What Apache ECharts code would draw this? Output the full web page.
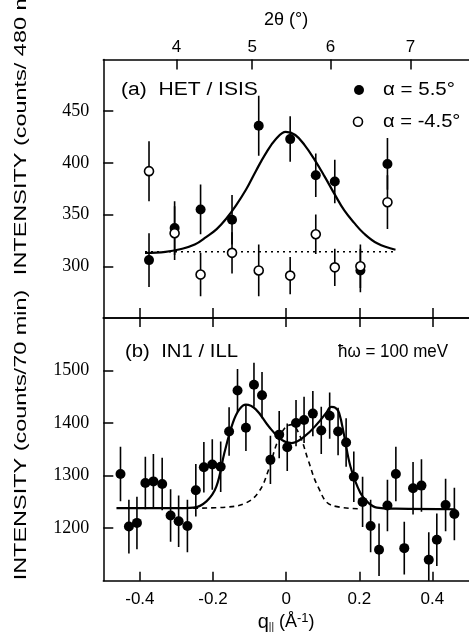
<!DOCTYPE html>
<html>
<head>
<meta charset="utf-8">
<script src="https://cdn.jsdelivr.net/npm/echarts@6/dist/echarts.min.js"></script>
<style>
html,body{margin:0;padding:0;background:#fff;}
#c{width:469px;height:639px;}
</style>
</head>
<body>
<div id="c"></div>
<script>
// ---------- Panel (a): HET / ISIS ----------
const qTop = [-0.375, -0.305, -0.234, -0.148, -0.075, 0.011, 0.081, 0.133, 0.203, 0.277];
const intensityPos = [306, 337, 355, 345, 436, 423, 388, 382, 296, 399];   // alpha = 5.5
const errPos = [26, 26, 24, 24, 29, 22, 21, 21, 21, 25];
const intensityNeg = [392, 332, 292, 313, 296, 291, 331, 299, 300, 362];   // alpha = -4.5
const errNeg = [29, 26, 21, 20, 25, 18, 19, 18, 21, 26];
const fitTopQ = [-0.386, -0.330, -0.290, -0.250, -0.218, -0.190, -0.164, -0.137, -0.110, -0.083, -0.056, -0.028, -0.001, 0.025, 0.051, 0.078, 0.105, 0.132, 0.159, 0.186, 0.212, 0.250, 0.299];
const fitTopVal = [313, 314, 316.5, 321, 328.5, 336, 346, 359, 374, 392, 409, 423, 430, 427, 417, 403, 387, 370, 354, 342, 332, 322, 316];
const baseTopQ = [-0.386, 0.299];
const baseTopVal = [314, 314];

// ---------- Panel (b): IN1 / ILL ----------
const qBottom = [-0.453, -0.430, -0.408, -0.385, -0.363, -0.339, -0.316, -0.294, -0.270, -0.247,
  -0.225, -0.202, -0.179, -0.156, -0.133, -0.110, -0.088, -0.066, -0.043, -0.019,
  0.003, 0.027, 0.049, 0.073, 0.096, 0.119, 0.142, 0.164, 0.185, 0.209,
  0.231, 0.254, 0.277, 0.300, 0.323, 0.347, 0.370, 0.390, 0.412, 0.436, 0.460];
const intensityBottom = [1303, 1203, 1210, 1286, 1289, 1284, 1224, 1213, 1204, 1272,
  1316, 1321, 1317, 1384, 1462, 1391, 1473, 1453, 1330, 1378,
  1354, 1400, 1406, 1418, 1386, 1414, 1384, 1363, 1298, 1250,
  1204, 1159, 1243, 1303, 1162, 1276, 1281, 1140, 1178, 1244, 1227];
const errBottom = [52, 51, 50, 50, 52, 50, 50, 49, 50, 50,
  48, 48, 48, 46, 41, 44, 42, 44, 46, 45,
  45, 44, 44, 43, 45, 44, 45, 46, 48, 48,
  50, 50, 49, 52, 50, 50, 50, 52, 50, 50, 50];
const fitBotQ = [-0.464, -0.300, -0.254, -0.218, -0.191, -0.169, -0.146, -0.128, -0.110, -0.083, -0.048, -0.012, 0.015, 0.051, 0.087, 0.110, 0.123, 0.135, 0.145, 0.159, 0.176, 0.203, 0.225, 0.248, 0.300, 0.463];
const fitBotVal = [1238, 1238, 1239, 1251, 1279, 1343, 1400, 1426, 1435, 1426, 1394, 1368, 1362, 1375, 1400, 1420, 1431, 1429, 1419, 1375, 1317, 1267, 1248, 1239, 1237, 1236];
const dashBotQ = [-0.254, -0.164, -0.110, -0.074, -0.048, -0.025, -0.003, 0.015, 0.038, 0.060, 0.087, 0.123, 0.203];
const dashBotVal = [1238, 1240, 1248, 1270, 1311, 1362, 1391, 1397, 1375, 1330, 1279, 1244, 1237];

// ---------- Axes ----------
const qTicks = [-0.4, -0.2, 0, 0.2, 0.4];
const twoThetaLabels = ['4', '5', '6', '7'];
const twoThetaQ = [-0.300, -0.093, 0.121, 0.340];
const yTopTicks = [300, 350, 400, 450];
const yBotTicks = [1200, 1300, 1400, 1500];

const sans = 'Liberation Sans';
const serif = 'Times New Roman';
const axisLine = {show: true, onZero: false, lineStyle: {color: '#000', width: 1.5}};

const pairs = (xs, ys) => xs.map((x, i) => [x, ys[i]]);
const bars = (xs, ys, es) => xs.map((x, i) => [x, ys[i] - es[i], ys[i] + es[i]]);

function errRender(params, api) {
  const p1 = api.coord([api.value(0), api.value(1)]);
  const p2 = api.coord([api.value(0), api.value(2)]);
  return {type: 'line', shape: {x1: p1[0], y1: p1[1], x2: p2[0], y2: p2[1]},
          style: {stroke: '#000', lineWidth: 1.6}};
}

const chart = echarts.init(document.getElementById('c'), null, {renderer: 'canvas'});

const gridL = 103.3, gridW = 372;
const yLabel = ticks => ({customValues: ticks, margin: 14, color: '#000', formatter: v => '{n|' + v + '}',
  rich: {n: {fontFamily: serif, fontSize: 18, color: '#000'}}});
const option = {
  animation: false,
  backgroundColor: '#fff',
  grid: [
    {left: gridL, top: 59.5, width: gridW, height: 258.5},
    {left: gridL, top: 318, width: gridW, height: 262.7}
  ],
  xAxis: [
    {gridIndex: 0, type: 'value', min: -0.5, max: 0.5, position: 'bottom',
     axisLine: axisLine, splitLine: {show: false},
     axisTick: {inside: true, length: 10, customValues: qTicks, lineStyle: {color: '#000', width: 1.5}},
     axisLabel: {show: false}},
    {gridIndex: 0, type: 'value', min: -0.5, max: 0.5, position: 'top',
     axisLine: axisLine, splitLine: {show: false},
     axisTick: {inside: true, length: 10, customValues: twoThetaQ, lineStyle: {color: '#000', width: 1.5}},
     axisLabel: {customValues: twoThetaQ, margin: 4, fontFamily: sans, fontSize: 17, color: '#000',
       formatter: v => { let best = 0; twoThetaQ.forEach((q, i) => { if (Math.abs(q - v) < Math.abs(twoThetaQ[best] - v)) best = i; }); return twoThetaLabels[best]; }},
     name: '2θ (°)', nameLocation: 'middle', nameGap: 30,
     nameTextStyle: {fontFamily: sans, fontSize: 18, color: '#000'}},
    {gridIndex: 1, type: 'value', min: -0.5, max: 0.5, position: 'bottom',
     axisLine: axisLine, splitLine: {show: false},
     axisTick: {inside: true, length: 9, customValues: qTicks, lineStyle: {color: '#000', width: 1.5}},
     axisLabel: {customValues: qTicks, margin: 10, fontFamily: sans, fontSize: 17, color: '#000',
       formatter: v => (Math.abs(v) < 1e-9 ? '0' : v.toFixed(1))},
     name: '{q|q}{s|||} {t|(Å}{p|-1}{t|)}', nameLocation: 'middle', nameGap: 31,
     nameTextStyle: {fontFamily: sans, fontSize: 18, color: '#000',
       rich: {q: {fontFamily: sans, fontSize: 20, color: '#000'},
              t: {fontFamily: sans, fontSize: 18, color: '#000'},
              s: {fontFamily: sans, fontSize: 10, color: '#000', verticalAlign: 'bottom', padding: [9, 0, 0, 0]},
              p: {fontFamily: sans, fontSize: 13, color: '#000', verticalAlign: 'top', padding: [0, 0, 8, 0]}}}},
    {gridIndex: 1, type: 'value', min: -0.5, max: 0.5, position: 'top',
     axisLine: axisLine, splitLine: {show: false},
     axisTick: {inside: true, length: 9, customValues: qTicks, lineStyle: {color: '#000', width: 1.5}},
     axisLabel: {show: false}}
  ],
  yAxis: [
    {gridIndex: 0, type: 'value', min: 250, max: 500,
     axisLine: axisLine, splitLine: {show: false},
     axisTick: {inside: true, length: 10, customValues: yTopTicks, lineStyle: {color: '#000', width: 1.5}},
     axisLabel: yLabel(yTopTicks)},
    {gridIndex: 1, type: 'value', min: 1100, max: 1600,
     axisLine: axisLine, splitLine: {show: false},
     axisTick: {inside: true, length: 10, customValues: yBotTicks, lineStyle: {color: '#000', width: 1.5}},
     axisLabel: yLabel(yBotTicks)}
  ],
  series: [
    {type: 'custom', xAxisIndex: 0, yAxisIndex: 0, renderItem: errRender, data: bars(qTop, intensityPos, errPos), clip: true, z: 2},
    {type: 'custom', xAxisIndex: 0, yAxisIndex: 0, renderItem: errRender, data: bars(qTop, intensityNeg, errNeg), clip: true, z: 2},
    {type: 'line', xAxisIndex: 0, yAxisIndex: 0, data: pairs(baseTopQ, baseTopVal), showSymbol: false, symbol: 'none',
     lineStyle: {color: '#000', width: 1.6, type: [2, 4]}, z: 3},
    {type: 'line', xAxisIndex: 0, yAxisIndex: 0, data: pairs(fitTopQ, fitTopVal), showSymbol: false, symbol: 'none', smooth: 0.4,
     lineStyle: {color: '#000', width: 2.2}, z: 3},
    {name: 'α = 5.5°', type: 'scatter', xAxisIndex: 0, yAxisIndex: 0, data: pairs(qTop, intensityPos), symbol: 'circle', symbolSize: 10,
     itemStyle: {color: '#000', opacity: 1}, z: 4},
    {name: 'α = -4.5°', type: 'scatter', xAxisIndex: 0, yAxisIndex: 0, data: pairs(qTop, intensityNeg), symbol: 'circle', symbolSize: 9,
     itemStyle: {color: '#fff', borderColor: '#000', borderWidth: 1.6, opacity: 1}, z: 5},

    {type: 'custom', xAxisIndex: 2, yAxisIndex: 1, renderItem: errRender, data: bars(qBottom, intensityBottom, errBottom), clip: true, z: 2},
    {type: 'line', xAxisIndex: 2, yAxisIndex: 1, data: pairs(dashBotQ, dashBotVal), showSymbol: false, symbol: 'none', smooth: 0.4,
     lineStyle: {color: '#000', width: 1.6, type: [5, 4]}, z: 3},
    {type: 'line', xAxisIndex: 2, yAxisIndex: 1, data: pairs(fitBotQ, fitBotVal), showSymbol: false, symbol: 'none', smooth: 0.4,
     lineStyle: {color: '#000', width: 2.2}, z: 3},
    {type: 'scatter', xAxisIndex: 2, yAxisIndex: 1, data: pairs(qBottom, intensityBottom), symbol: 'circle', symbolSize: 10,
     itemStyle: {color: '#000', opacity: 1}, z: 4}
  ],
  graphic: [
    {type: 'text', x: 121, y: 90, scaleX: 1.17,
     style: {text: '(a)  HET / ISIS', fontFamily: sans, fontSize: 18, fill: '#000', align: 'left', verticalAlign: 'middle'}},
    {type: 'circle', shape: {cx: 359, cy: 90, r: 5}, style: {fill: '#000'}},
    {type: 'text', x: 383, y: 90, scaleX: 1.14,
     style: {text: 'α = 5.5°', fontFamily: sans, fontSize: 18, fill: '#000', align: 'left', verticalAlign: 'middle'}},
    {type: 'circle', shape: {cx: 358, cy: 121.7, r: 4.5}, style: {fill: '#fff', stroke: '#000', lineWidth: 1.6}},
    {type: 'text', x: 383, y: 122, scaleX: 1.12,
     style: {text: 'α = -4.5°', fontFamily: sans, fontSize: 18, fill: '#000', align: 'left', verticalAlign: 'middle'}},
    {type: 'text', x: 125, y: 352, scaleX: 1.13,
     style: {text: '(b)  IN1 / ILL', fontFamily: sans, fontSize: 18, fill: '#000', align: 'left', verticalAlign: 'middle'}},
    {type: 'text', x: 338, y: 352, scaleY: 1.08,
     style: {text: 'ħω = 100 meV', fontFamily: sans, fontSize: 17, fill: '#000', align: 'left', verticalAlign: 'middle'}},
    {type: 'text', x: 21, y: 120, rotation: Math.PI / 2, scaleX: 1.38,
     style: {text: 'INTENSITY (counts/ 480 min)', fontFamily: sans, fontSize: 17, fill: '#000', align: 'center', verticalAlign: 'middle'}},
    {type: 'text', x: 21, y: 435, rotation: Math.PI / 2, scaleX: 1.38,
     style: {text: 'INTENSITY (counts/70 min)', fontFamily: sans, fontSize: 17, fill: '#000', align: 'center', verticalAlign: 'middle'}}
  ]
};
chart.setOption(option);
</script>
</body>
</html>
